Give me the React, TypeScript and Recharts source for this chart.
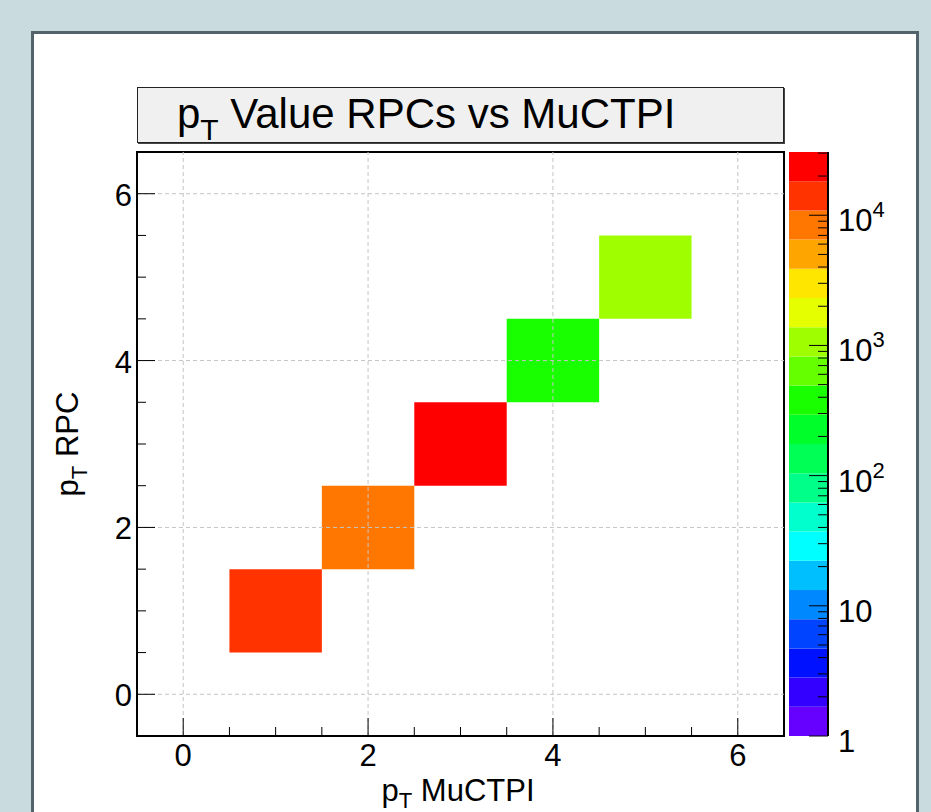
import { ReferenceArea, ReferenceLine, Scatter, ScatterChart, XAxis, YAxis } from 'recharts';

// bin centres (pT MuCTPI, pT RPC) and their entries
const binX = [1, 2, 3, 4, 5];
const binY = [1, 2, 3, 4, 5];
const binCounts = [14000, 8500, 25500, 400, 1100];

const axisTicks = [0, 0.5, 1, 1.5, 2, 2.5, 3, 3.5, 4, 4.5, 5, 5.5, 6];
const majorTicks = [0, 2, 4, 6];

// colour palette, lowest contour first
const palette = [
  '#6600ff', '#3300ff', '#0011ff', '#0044ff', '#0088ff', '#00bfff', '#00ffff', '#00ffcc', '#00ff88', '#00ff55',
  '#00ff2a', '#1aff00', '#66ff00', '#9fff00', '#e6ff00', '#ffe600', '#ffa500', '#ff7700', '#ff3300', '#ff0000',
];
const zMax = 30600;
const zTicks = [1, 2, 3, 4, 5, 6, 7, 8, 9, 10, 20, 30, 40, 50, 60, 70, 80, 90, 100, 200, 300, 400, 500, 600, 700, 800, 900,
  1000, 2000, 3000, 4000, 5000, 6000, 7000, 8000, 9000, 10000, 20000, 30000];
const zMajor = [1, 10, 100, 1000, 10000];

const FONT = '"Liberation Sans", Arial, sans-serif';
const LABEL = 31;
const logMax = Math.log10(zMax);
const bandEdge = (k: number) => Math.pow(10, (k * logMax) / palette.length);
const colorFor = (v: number) => palette[Math.min(palette.length - 1, Math.floor((Math.log10(v) / logMax) * palette.length))];

const bins = binX.map((x, i) => ({ x, y: binY[i], count: binCounts[i] }));

function XTick(props: any) {
  const { x, y, payload } = props;
  const major = majorTicks.includes(payload.value);
  return (
    <g>
      <line x1={x} x2={x} y1={y} y2={y - (major ? 18 : 9)} stroke="#000" strokeWidth={1} />
      {major && (
        <text x={x} y={y + 30} textAnchor="middle" fontSize={LABEL} fontFamily={FONT} fill="#000">
          {payload.value}
        </text>
      )}
    </g>
  );
}

function YTick(props: any) {
  const { x, y, payload } = props;
  const major = majorTicks.includes(payload.value);
  return (
    <g>
      <line x1={x} x2={x + (major ? 18 : 9)} y1={y} y2={y} stroke="#000" strokeWidth={1} />
      {major && (
        <text x={x - 5} y={y + 12} textAnchor="end" fontSize={LABEL} fontFamily={FONT} fill="#000">
          {payload.value}
        </text>
      )}
    </g>
  );
}

function ZTick(props: any) {
  const { x, y, payload } = props;
  const v = payload.value;
  const major = zMajor.includes(v);
  const exp = Math.round(Math.log10(v));
  return (
    <g>
      <line x1={x - (major ? 19 : 10)} x2={x} y1={y} y2={y} stroke="#000" strokeWidth={1} />
      {major && (
        <text x={x + 10} y={y + 16} fontSize={LABEL} fontFamily={FONT} fill="#000">
          {exp === 0 ? '1' : '10'}
          {exp > 1 && (
            <tspan dy={-14} fontSize={22}>
              {exp}
            </tspan>
          )}
        </text>
      )}
    </g>
  );
}

export default function App() {
  return (
    <div style={{ position: 'absolute', left: 0, top: 0, width: 931, height: 812, background: '#c9dbdf', overflow: 'hidden' }}>
      <div
        style={{
          position: 'absolute', left: 31, top: 31, width: 888, height: 800, boxSizing: 'border-box',
          background: '#fff', border: '3px solid #52636c',
        }}
      />
      <div
        style={{
          position: 'absolute', left: 137, top: 87, width: 647, height: 56, boxSizing: 'border-box',
          background: '#f0f0f0', border: '1px solid #222', boxShadow: '1px 1px 0 #444',
        }}
      />

      <ScatterChart width={931} height={812} margin={{ top: 152, right: 147, bottom: 36, left: 77 }} style={{ position: 'absolute', left: 0, top: 0 }}>
        <XAxis
          type="number" dataKey="x" domain={[-0.5, 6.5]} ticks={axisTicks} interval={0} height={40}
          allowDataOverflow tickSize={0} tickMargin={0} tick={XTick} axisLine={{ stroke: '#000', strokeWidth: 2 }}
        />
        <YAxis
          type="number" dataKey="y" domain={[-0.5, 6.5]} ticks={axisTicks} interval={0} width={60}
          allowDataOverflow tickSize={0} tickMargin={0} tick={YTick} axisLine={{ stroke: '#000', strokeWidth: 2 }}
        />
        {majorTicks.map((t) => (
          <ReferenceLine key={'gx' + t} x={t} stroke="#c4c4c4" strokeDasharray="4 3" />
        ))}
        {majorTicks.map((t) => (
          <ReferenceLine key={'gy' + t} y={t} stroke="#c4c4c4" strokeDasharray="4 3" />
        ))}
        {bins.map((b) => (
          <ReferenceArea
            key={b.x}
            x1={b.x - 0.5} x2={b.x + 0.5} y1={b.y - 0.5} y2={b.y + 0.5}
            fill={colorFor(b.count)} fillOpacity={1} stroke="none"
          />
        ))}
        <ReferenceArea x1={-0.5} x2={6.5} y1={-0.5} y2={6.5} fill="none" stroke="#000" strokeWidth={2} />
        <Scatter data={bins} isAnimationActive={false} shape={() => <g />} />
      </ScatterChart>

      <ScatterChart width={931} height={812} margin={{ top: 152, right: 43, bottom: 76, left: 789 }} style={{ position: 'absolute', left: 0, top: 0 }}>
        <XAxis type="number" dataKey="x" domain={[0, 1]} hide />
        <YAxis
          yAxisId={0} orientation="right" type="number" dataKey="y" scale="log" domain={[1, zMax]} allowDataOverflow
          ticks={zTicks} interval={0} width={60} tickSize={0} tickMargin={0} tick={ZTick}
          axisLine={{ stroke: '#000', strokeWidth: 2 }}
        />
        {palette.map((c, k) => (
          <ReferenceArea key={c} x1={0} x2={1} y1={bandEdge(k)} y2={bandEdge(k + 1)} fill={c} fillOpacity={1} stroke="none" />
        ))}
        <Scatter data={[{ x: 0.5, y: 100 }]} isAnimationActive={false} shape={() => <g />} />
      </ScatterChart>

      <svg width={931} height={812} style={{ position: 'absolute', left: 0, top: 0 }}>
        <text x={177} y={128} fontSize={42} fontFamily={FONT} fill="#000">
          p
          <tspan dy={12} fontSize={30}>T</tspan>
          <tspan dy={-12}> Value RPCs vs MuCTPI</tspan>
        </text>
        <text x={458} y={801} textAnchor="middle" fontSize={LABEL} fontFamily={FONT} fill="#000">
          p<tspan dy={7} fontSize={22}>T</tspan>
          <tspan dy={-7}> MuCTPI</tspan>
        </text>
        <text transform="translate(78,444) rotate(-90)" textAnchor="middle" fontSize={LABEL} fontFamily={FONT} fill="#000">
          p<tspan dy={9} fontSize={22}>T</tspan>
          <tspan dy={-9}> RPC</tspan>
        </text>
      </svg>
    </div>
  );
}
